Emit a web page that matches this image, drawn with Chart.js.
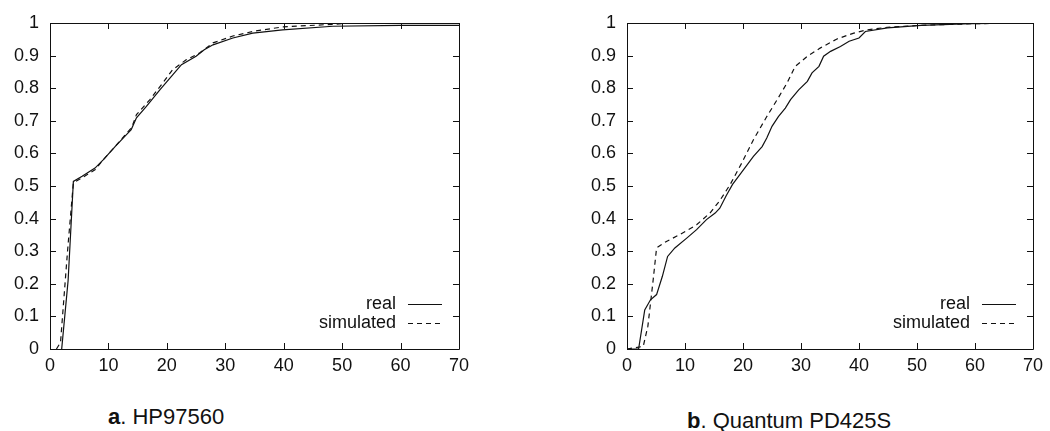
<!DOCTYPE html>
<html>
<head>
<meta charset="utf-8">
<script src="https://cdn.jsdelivr.net/npm/chart.js@4.4.0/dist/chart.umd.min.js"></script>
<style>
  body { margin: 0; background: #fff; width: 1050px; height: 431px; position: relative; overflow: hidden; }
  canvas { position: absolute; top: 0; }
  #chartA { left: 0; }
  #chartB { left: 577px; }
  .caption { position: absolute; font: 22px "Liberation Sans", Arial, sans-serif; color: #111; line-height: 22px; white-space: nowrap; }
  .caption b { font-weight: bold; }
</style>
</head>
<body>
<canvas id="chartA" width="475" height="385"></canvas>
<canvas id="chartB" width="472" height="385"></canvas>
<div class="caption" style="left:108px; top:406px;"><b>a</b>. HP97560</div>
<div class="caption" style="left:687px; top:410px;"><b>b</b>. Quantum PD425S</div>
<script>
// tick values
const xTicks = [0, 10, 20, 30, 40, 50, 60, 70];
const yTicks = [0, 0.1, 0.2, 0.3, 0.4, 0.5, 0.6, 0.7, 0.8, 0.9, 1];
const seriesNames = ['real', 'simulated'];

// a. HP97560
const hpRealX = [2.0, 3.1, 4.0, 5.5, 7.7, 9.1, 11.1, 12.8, 13.9, 14.8, 16.5, 18.8, 21.0, 22.5, 25.0, 26.4, 27.9, 31.3, 34.7, 39.8, 48.4, 60, 70];
const hpRealY = [0, 0.21, 0.514, 0.53, 0.555, 0.58, 0.62, 0.652, 0.673, 0.709, 0.744, 0.795, 0.841, 0.872, 0.898, 0.918, 0.933, 0.954, 0.969, 0.979, 0.99, 0.993, 0.993];
const hpSimX = [1.1, 1.8, 3.0, 4.0, 5.5, 7.7, 9.1, 11.1, 12.8, 14.0, 14.8, 17.1, 19.3, 21.0, 23.3, 25.6, 27.9, 31.3, 34.7, 39.8, 48.4, 52, 70];
const hpSimY = [0, 0.02, 0.3, 0.51, 0.525, 0.55, 0.58, 0.62, 0.655, 0.68, 0.719, 0.765, 0.816, 0.857, 0.887, 0.908, 0.939, 0.96, 0.974, 0.988, 0.996, 1.0, 1.0];

// b. Quantum PD425S
const qRealX = [0, 2.0, 3.06, 4.05, 5.1, 6.1, 7.0, 8.25, 10.3, 12.0, 13.7, 15.2, 16.0, 17.1, 18.2, 20.1, 21.8, 23.3, 24.1, 25.0, 26.1, 27.3, 28.2, 29.6, 31.1, 31.9, 33.1, 33.9, 35.1, 36.8, 38.3, 40.0, 41.1, 44.9, 50.7, 59.3, 70];
const qRealY = [0, 0, 0.12, 0.151, 0.167, 0.223, 0.284, 0.31, 0.34, 0.366, 0.397, 0.417, 0.432, 0.47, 0.505, 0.55, 0.591, 0.621, 0.647, 0.683, 0.713, 0.739, 0.765, 0.795, 0.821, 0.847, 0.867, 0.898, 0.913, 0.928, 0.944, 0.954, 0.974, 0.985, 0.993, 0.998, 1.0];
const qSimX = [0, 2.8, 3.6, 4.5, 5.1, 6.8, 9.1, 12.0, 14.3, 16.0, 17.8, 19.8, 21.8, 24.1, 25.9, 27.6, 29.0, 31.1, 33.3, 36.2, 39.1, 41.4, 44.9, 50.7, 60, 70];
const qSimY = [0, 0.008, 0.07, 0.21, 0.31, 0.33, 0.351, 0.381, 0.417, 0.455, 0.505, 0.571, 0.642, 0.713, 0.765, 0.816, 0.867, 0.898, 0.923, 0.951, 0.969, 0.979, 0.987, 0.993, 0.998, 1.0];

const FONT = '"Liberation Sans", Arial, sans-serif';
const INK = '#111';

function toPoints(xs, ys) {
  return xs.map((x, i) => ({ x: x, y: ys[i] }));
}

// gnuplot style box: frame, inward ticks on all sides, key in the lower right
const boxPlugin = {
  id: 'gnuBox',
  afterDraw(chart) {
    const ctx = chart.ctx;
    const a = chart.chartArea;
    const xs = chart.scales.x, ys = chart.scales.y;
    const tl = 6;
    ctx.save();
    ctx.strokeStyle = INK;
    ctx.lineWidth = 1;
    ctx.beginPath();
    ctx.rect(Math.round(a.left) + 0.5, Math.round(a.top) + 0.5, Math.round(a.right - a.left), Math.round(a.bottom - a.top));
    xTicks.forEach(v => {
      const px = Math.round(xs.getPixelForValue(v)) + 0.5;
      ctx.moveTo(px, a.bottom); ctx.lineTo(px, a.bottom - tl);
      ctx.moveTo(px, a.top); ctx.lineTo(px, a.top + tl);
    });
    yTicks.forEach(v => {
      const py = Math.round(ys.getPixelForValue(v)) + 0.5;
      ctx.moveTo(a.left, py); ctx.lineTo(a.left + tl, py);
      ctx.moveTo(a.right, py); ctx.lineTo(a.right - tl, py);
    });
    ctx.stroke();

    // key
    ctx.font = '18px ' + FONT;
    ctx.fillStyle = INK;
    ctx.textAlign = 'right';
    ctx.textBaseline = 'middle';
    chart.data.datasets.forEach((ds, i) => {
      const y = a.bottom - 45 + i * 19;
      ctx.fillText(ds.label, a.right - 63, y);
      ctx.beginPath();
      ctx.lineWidth = ds.borderWidth;
      ctx.setLineDash(ds.borderDash || []);
      ctx.moveTo(a.right - 51, Math.round(y) + 0.5);
      ctx.lineTo(a.right - 17, Math.round(y) + 0.5);
      ctx.stroke();
    });
    ctx.restore();
  }
};

function makeChart(id, realPts, simPts) {
  return new Chart(document.getElementById(id), {
    type: 'scatter',
    data: {
      datasets: [
        { label: seriesNames[0], data: realPts, showLine: true, borderColor: INK, borderWidth: 1.2, pointRadius: 0, tension: 0 },
        { label: seriesNames[1], data: simPts, showLine: true, borderColor: INK, borderWidth: 1.2, borderDash: [5, 4], pointRadius: 0, tension: 0 }
      ]
    },
    options: {
      responsive: false,
      animation: false,
      devicePixelRatio: 1,
      layout: { padding: { top: 23, right: 10, left: 0, bottom: 0 } },
      plugins: { legend: { display: false }, tooltip: { enabled: false }, title: { display: false } },
      scales: {
        x: {
          type: 'linear', min: 0, max: 70,
          grid: { display: false, drawTicks: false },
          border: { display: false },
          afterBuildTicks: s => { s.ticks = xTicks.map(v => ({ value: v })); },
          afterFit: s => { s.height = 36; },
          ticks: { color: INK, font: { family: FONT, size: 18 }, padding: 6, maxRotation: 0, callback: v => String(v) }
        },
        y: {
          type: 'linear', min: 0, max: 1,
          grid: { display: false, drawTicks: false },
          border: { display: false },
          afterBuildTicks: s => { s.ticks = yTicks.map(v => ({ value: v })); },
          afterFit: s => { s.width = 50; },
          ticks: { color: INK, font: { family: FONT, size: 18 }, padding: 11, callback: v => String(v) }
        }
      }
    },
    plugins: [boxPlugin]
  });
}

makeChart('chartA', toPoints(hpRealX, hpRealY), toPoints(hpSimX, hpSimY));
makeChart('chartB', toPoints(qRealX, qRealY), toPoints(qSimX, qSimY));
</script>
</body>
</html>
